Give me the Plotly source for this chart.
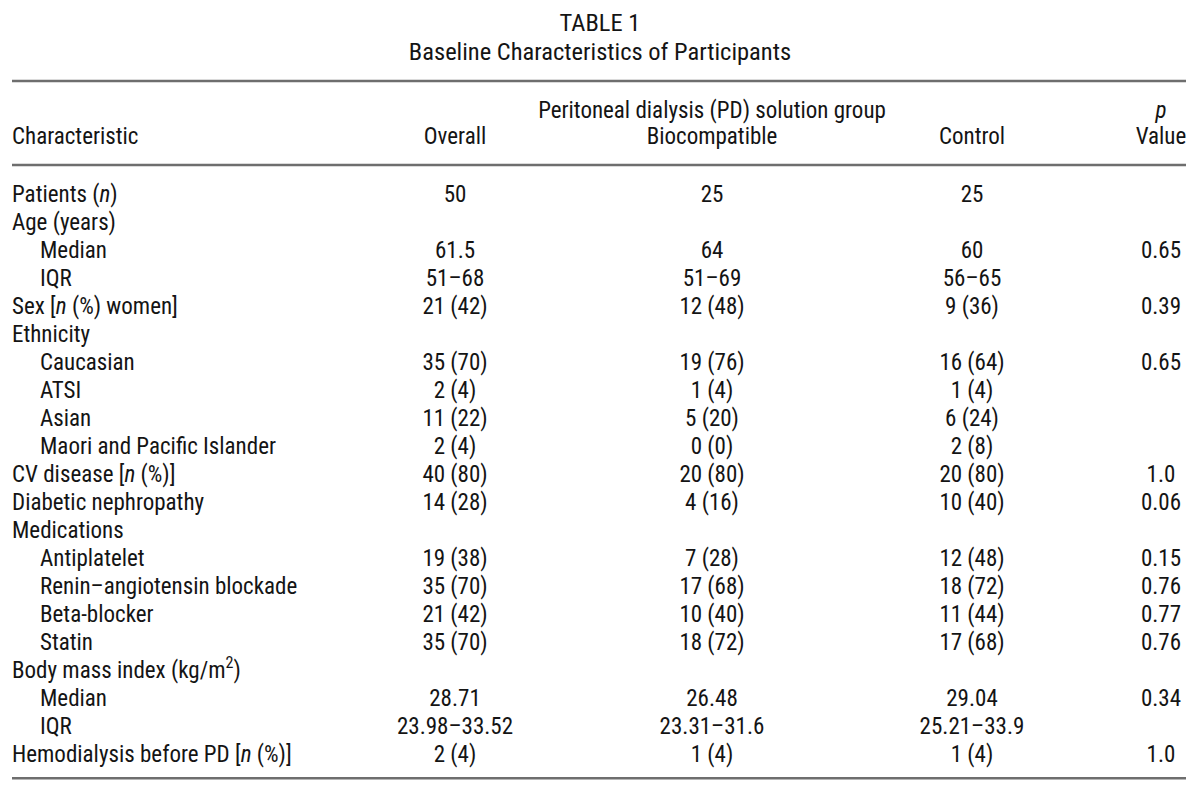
import plotly.graph_objects as go

characteristics = [
    "Patients (<i>n</i>)", "Age (years)", "Median", "IQR",
    "Sex [<i>n</i> (%) women]", "Ethnicity", "Caucasian", "ATSI", "Asian",
    "Maori and Pacific Islander", "CV disease [<i>n</i> (%)]",
    "Diabetic nephropathy", "Medications", "Antiplatelet",
    "Renin–angiotensin blockade", "Beta-blocker", "Statin",
    "Body mass index (kg/m<sup>2</sup>)", "Median", "IQR",
    "Hemodialysis before PD [<i>n</i> (%)]",
]
# 0 = main row, 1 = indented sub-row
level = [0, 0, 1, 1, 0, 0, 1, 1, 1, 1, 0, 0, 0, 1, 1, 1, 1, 0, 1, 1, 0]

overall = ["50", "", "61.5", "51–68", "21 (42)", "", "35 (70)", "2 (4)", "11 (22)",
           "2 (4)", "40 (80)", "14 (28)", "", "19 (38)", "35 (70)", "21 (42)",
           "35 (70)", "", "28.71", "23.98–33.52", "2 (4)"]
biocompatible = ["25", "", "64", "51–69", "12 (48)", "", "19 (76)", "1 (4)", "5 (20)",
                 "0 (0)", "20 (80)", "4 (16)", "", "7 (28)", "17 (68)", "10 (40)",
                 "18 (72)", "", "26.48", "23.31–31.6", "1 (4)"]
control = ["25", "", "60", "56–65", "9 (36)", "", "16 (64)", "1 (4)", "6 (24)",
           "2 (8)", "20 (80)", "10 (40)", "", "12 (48)", "18 (72)", "11 (44)",
           "17 (68)", "", "29.04", "25.21–33.9", "1 (4)"]
p_value = ["", "", "0.65", "", "0.39", "", "0.65", "", "", "", "1.0", "0.06", "",
           "0.15", "0.76", "0.77", "0.76", "", "0.34", "", "1.0"]

title = "TABLE 1"
subtitle = "Baseline Characteristics of Participants"
group_header = "Peritoneal dialysis (PD) solution group"
col_headers = ["Characteristic", "Overall", "Biocompatible", "Control", "Value"]

FONT = "Liberation Sans Narrow, Roboto Condensed, Roboto, sans-serif"
INK = "#141414"
RULE = "#6e6e6e"
BODY_SIZE = 23

# x axis is in page pixels; y axis is in table rows (row 0 = "Patients")
X_LABEL, X_INDENT = 12, 40
X_OVERALL, X_BIO, X_CTRL, X_P = 455, 712, 972, 1161
PAGE_OFFSET = 8          # default <body> margin of the html page
ROW_PX, ROW0_PX = 28.0, 193
TEXT_DROP = 0.1          # text box centre sits a little above the cap centre

rows = list(range(len(characteristics)))

fig = go.Figure()


def text_col(x, y, text, pos="middle center", size=BODY_SIZE):
    cells = [(xi, yi + TEXT_DROP, t) for xi, yi, t in zip(x, y, text) if t]
    fig.add_trace(go.Scatter(
        x=[c[0] for c in cells], y=[c[1] for c in cells], text=[c[2] for c in cells],
        mode="text", textposition=pos,
        textfont=dict(family=FONT, size=size, color=INK),
        hoverinfo="skip", showlegend=False, cliponaxis=False,
    ))


# body
text_col([X_INDENT if lv else X_LABEL for lv in level], rows, characteristics, "middle right")
text_col([X_OVERALL] * len(rows), rows, overall)
text_col([X_BIO] * len(rows), rows, biocompatible)
text_col([X_CTRL] * len(rows), rows, control)
text_col([X_P] * len(rows), rows, p_value)

# header
text_col([600, 600], [-6.1, -5.07], [title, subtitle], size=24.5)
text_col([X_BIO, X_P], [-3.0, -3.0], [group_header, "<i>p</i>"])
text_col([X_LABEL], [-2.04], [col_headers[0]], "middle right")
text_col([X_OVERALL, X_BIO, X_CTRL, X_P], [-2.04] * 4, col_headers[1:])

# horizontal rules
for yr in (-4.0, -1.0, 20.9):
    fig.add_shape(type="line", x0=12, x1=1186, y0=yr, y1=yr, xref="x", yref="y",
                  line=dict(color=RULE, width=2.5))

W, H = 1200, 794
fig.update_layout(
    width=W, height=H,
    margin=dict(l=0, r=0, t=0, b=0),
    paper_bgcolor="white", plot_bgcolor="white",
    xaxis=dict(range=[PAGE_OFFSET, PAGE_OFFSET + W], visible=False, fixedrange=True),
    yaxis=dict(range=[(PAGE_OFFSET + H - ROW0_PX) / ROW_PX, (PAGE_OFFSET - ROW0_PX) / ROW_PX],
               visible=False, fixedrange=True),
    font=dict(family=FONT, color=INK),
)

fig.write_html("out.html", config={"displayModeBar": False})
